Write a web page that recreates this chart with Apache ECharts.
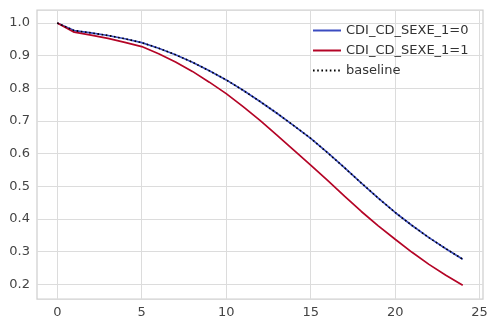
<!DOCTYPE html>
<html>
<head>
<meta charset="utf-8">
<script src="https://cdn.jsdelivr.net/npm/echarts@6/dist/echarts.min.js"></script>
<style>
  html, body { margin: 0; padding: 0; background: #fff; }
  #chart { width: 496px; height: 327px; }
</style>
</head>
<body>
<div id="chart"></div>
<script>
// time points 0..24
var timeline = [0,1,2,3,4,5,6,7,8,9,10,11,12,13,14,15,16,17,18,19,20,21,22,23,24];
// CDI_CD_SEXE_1=0
var sexe0 = [1.000,0.977,0.970,0.962,0.952,0.940,0.923,0.903,0.880,0.854,0.826,0.794,0.760,0.724,0.686,0.647,0.603,0.557,0.510,0.464,0.420,0.380,0.343,0.309,0.277];
// CDI_CD_SEXE_1=1
var sexe1 = [1.000,0.972,0.963,0.953,0.941,0.928,0.906,0.881,0.852,0.819,0.784,0.744,0.702,0.657,0.611,0.565,0.518,0.470,0.423,0.379,0.338,0.298,0.261,0.228,0.197];
// baseline (sits on top of the =0 curve)
var baseline = [1.000,0.977,0.970,0.962,0.952,0.940,0.923,0.903,0.880,0.854,0.826,0.794,0.760,0.724,0.686,0.647,0.603,0.557,0.510,0.464,0.420,0.380,0.343,0.309,0.277];

var xTicks = [0,5,10,15,20,25];
var yTicks = [0.2,0.3,0.4,0.5,0.6,0.7,0.8,0.9,1.0];

function pairs(ys) {
  return timeline.map(function (t, i) { return [t, ys[i]]; });
}

var font = 'DejaVu Sans';
var chart = echarts.init(document.getElementById('chart'));
chart.setOption({
  animation: false,
  backgroundColor: '#ffffff',
  grid: {
    left: 37, right: 13, top: 10, bottom: 28,
    show: true, borderColor: '#cfcfcf', borderWidth: 1.25, backgroundColor: '#ffffff'
  },
  legend: {
    orient: 'vertical',
    left: 307, top: 19,
    itemWidth: 28, itemHeight: 14, itemGap: 7,
    // hide the circle marker ECharts puts on line legend icons
    itemStyle: { color: 'transparent', borderWidth: 0 },
    textStyle: { fontFamily: font, fontSize: 13, color: '#333' },
    data: ['CDI_CD_SEXE_1=0', 'CDI_CD_SEXE_1=1', 'baseline']
  },
  xAxis: {
    type: 'value',
    min: -1.2, max: 25.2,
    axisLine: { show: false },
    axisTick: { show: false, customValues: xTicks },
    axisLabel: { customValues: xTicks, fontFamily: font, fontSize: 13, color: '#444', margin: 7 },
    splitLine: { show: true, lineStyle: { color: '#dcdcdc', width: 1 } }
  },
  yAxis: {
    type: 'value',
    min: 0.155, max: 1.04,
    axisLine: { show: false },
    axisTick: { show: false, customValues: yTicks },
    axisLabel: {
      customValues: yTicks, fontFamily: font, fontSize: 13, color: '#444', margin: 7,
      formatter: function (v) { return v.toFixed(1); }
    },
    splitLine: { show: true, lineStyle: { color: '#dcdcdc', width: 1 } }
  },
  series: [
    {
      name: 'CDI_CD_SEXE_1=0', type: 'line', symbol: 'none',
      data: pairs(sexe0), color: '#3b4cc0',
      lineStyle: { color: '#3b4cc0', width: 1.7 }, z: 2
    },
    {
      name: 'CDI_CD_SEXE_1=1', type: 'line', symbol: 'none',
      data: pairs(sexe1), color: '#b40426',
      lineStyle: { color: '#b40426', width: 1.7 }, z: 2
    },
    {
      name: 'baseline', type: 'line', symbol: 'none',
      data: pairs(baseline), color: '#000000',
      lineStyle: { color: '#000000', width: 1.6, type: [1.6, 2.6] }, z: 3
    }
  ]
});
</script>
</body>
</html>
